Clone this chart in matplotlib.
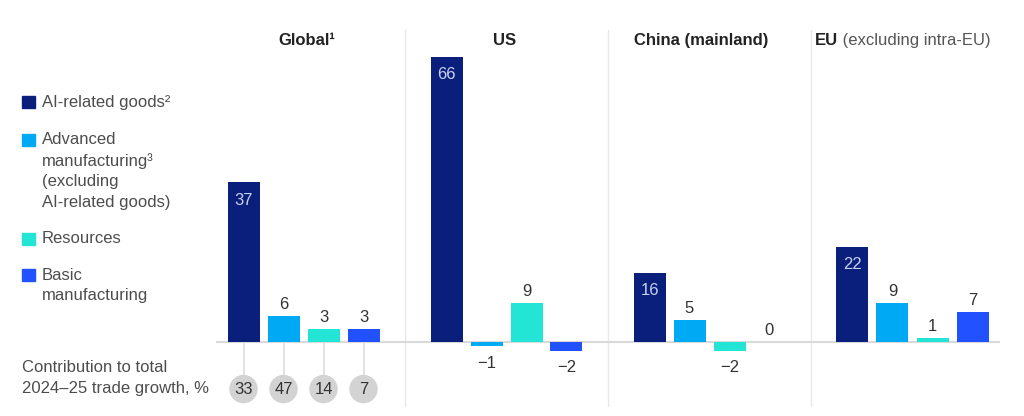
import matplotlib
matplotlib.use("Agg")
import matplotlib.pyplot as plt
from matplotlib.patches import Rectangle

plt.rcParams['font.family'] = ['Liberation Sans', 'DejaVu Sans']

# ---------------- data ----------------
regions = ["Global¹", "US", "China (mainland)", "EU"]
region_suffix = ["", "", "", " (excluding intra-EU)"]
categories = ["AI-related goods²",
              "Advanced\nmanufacturing³\n(excluding\nAI-related goods)",
              "Resources",
              "Basic\nmanufacturing"]
global_vals = [37, 6, 3, 3]
us_vals = [66, -1, 9, -2]
china_vals = [16, 5, -2, 0]
eu_vals = [22, 9, 1, 7]
contribution = [33, 47, 14, 7]
contribution_label = "Contribution to total\n2024–25 trade growth, %"

colors = ["#0a1f7c", "#00a9f4", "#22e5d6", "#2251ff"]
inside_color = "#c9d1ee"
label_color = "#333333"
legend_color = "#4d4d4d"

all_vals = [global_vals, us_vals, china_vals, eu_vals]

# ---------------- layout ----------------
W, H = 1024, 416
fig = plt.figure(figsize=(W / 100, H / 100), dpi=100)
ax = fig.add_axes([202 / W, 9 / H, 812 / W, 377 / H])

group_gap = 5.075
bar_w = 0.8
half_panel = 2.5375
title_dx = [0.08, -0.05, -0.2]
xmin = 1.5 - half_panel
xmax = 3 * group_gap + 1.5 + half_panel
ax.set_xlim(xmin, xmax)
ax.set_ylim(-15.05, 72.22)
ax.axis("off")

# dividers
for g in range(1, 4):
    xd = g * group_gap + 1.5 - half_panel
    ax.axvline(xd, color="#e8e8e8", lw=1.0, zorder=0)

# baseline
ax.plot([xmin + 0.35, xmax - 0.35], [0, 0], color="#d9d9d9", lw=1.5, zorder=1,
        solid_capstyle="butt")

for g, vals in enumerate(all_vals):
    xs = [g * group_gap + i for i in range(4)]
    ax.bar(xs, vals, width=bar_w, color=colors, zorder=2, edgecolor="none")
    for i, (x, v) in enumerate(zip(xs, vals)):
        if v >= 12:
            ax.annotate(f"{v}", (x, v), xytext=(0, -7.5), textcoords="offset points",
                        ha="center", va="top", fontsize=12, color=inside_color,
                        zorder=3)
        elif v >= 0:
            ax.annotate(f"{v}", (x, v), xytext=(0, 5), textcoords="offset points",
                        ha="center", va="baseline", fontsize=12, color=label_color,
                        zorder=3)
        else:
            ax.annotate(f"\u2212{abs(v)}", (x, v), xytext=(0, -7),
                        textcoords="offset points", ha="center", va="top",
                        fontsize=12, color=label_color, zorder=3)
    # titles
    if g < 3:
        ax.text(g * group_gap + 1.5 + title_dx[g], 0.973, regions[g] + region_suffix[g],
                transform=ax.get_xaxis_transform(), ha="center", va="center",
                fontsize=12, fontweight="bold", color="#222222")
    else:
        t = ax.text(g * group_gap + 1.5 - half_panel + 0.1, 0.973, regions[g],
                    transform=ax.get_xaxis_transform(), ha="left", va="center",
                    fontsize=12, fontweight="bold", color="#222222")
        ax.annotate(region_suffix[g], xy=(1, 0), xycoords=t, ha="left",
                    va="bottom", fontsize=12, color="#555555")

# contribution circles for Global
circle_y = -10.9
cx = [i for i in range(4)]
ax.vlines(cx, circle_y, 0, color="#dddddd", lw=1.2, zorder=1)
ax.scatter(cx, [circle_y] * 4, s=420, color="#d3d3d3", zorder=2, edgecolors="none")
for x, c in zip(cx, contribution):
    ax.text(x, circle_y, f"{c}", ha="center", va="center", fontsize=12,
            color=label_color, zorder=3)

# contribution label
for k, line in enumerate(contribution_label.split("\n")):
    fig.text(22 / W, 1 - (368 + k * 21) / H, line, ha="left", va="center",
             fontsize=12, color=legend_color)

# legend (manual)
first_line_y = [102, 140, 239, 275]
for col, lab, y0 in zip(colors, categories, first_line_y):
    fig.patches.append(Rectangle((22 / W, 1 - (y0 + 6) / H), 13 / W, 12 / H,
                                 transform=fig.transFigure, color=col,
                                 figure=fig))
    for k, line in enumerate(lab.split("\n")):
        fig.text(42 / W, 1 - (y0 + k * 20.7) / H, line, ha="left", va="center",
                 fontsize=12, color=legend_color)

fig.savefig("out.png", dpi=100, facecolor="white")
